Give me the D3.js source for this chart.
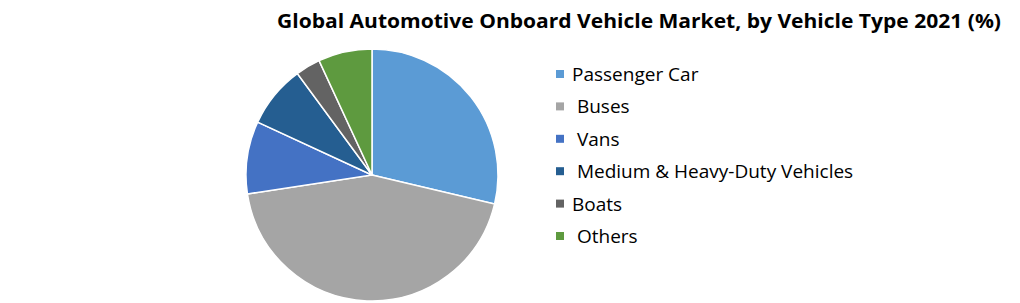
<!DOCTYPE html>
<html>
<head>
<meta charset="utf-8">
<script src="https://cdn.jsdelivr.net/npm/d3@7"></script>
<style>
  body { margin: 0; background: #fff; }
  text { font-family: "Open Sans", "Noto Sans", sans-serif; }
</style>
</head>
<body>
<svg id="chart" width="1020" height="303"></svg>
<script>
// vehicle type shares, 2021 (%)
const categories = ['Passenger Car', ' Buses', ' Vans', ' Medium & Heavy-Duty Vehicles', 'Boats', ' Others'];
const shares = [28.7, 43.9, 9.3, 8.0, 3.2, 6.9];
const colors = ['#5b9bd5', '#a5a5a5', '#4472c4', '#255e91', '#636363', '#5e9a3f'];

const title = 'Global Automotive Onboard Vehicle Market, by Vehicle Type 2021 (%)';

const svg = d3.select('#chart');

svg.append('text')
  .attr('x', 1001)
  .attr('y', 28)
  .attr('text-anchor', 'end')
  .attr('font-size', 20)
  .attr('font-weight', 'bold')
  .attr('textLength', 724)
  .attr('lengthAdjust', 'spacingAndGlyphs')
  .attr('fill', '#000')
  .text(title);

const data = categories.map((name, i) => ({name, value: shares[i], color: colors[i]}));

const pie = d3.pie()
  .sort(null)
  .value(d => d.value);

const arc = d3.arc()
  .innerRadius(0)
  .outerRadius(126);

svg.append('g')
  .attr('transform', 'translate(372,175)')
  .selectAll('path')
  .data(pie(data))
  .enter()
  .append('path')
  .attr('d', arc)
  .attr('fill', d => d.data.color)
  .attr('stroke', '#fff')
  .attr('stroke-width', 1.5);

const y = d3.scalePoint()
  .domain(categories)
  .range([74, 236]);

const legend = svg.append('g')
  .selectAll('g.row')
  .data(data)
  .enter()
  .append('g')
  .classed('row', true)
  .attr('transform', d => `translate(556,${y(d.name)})`);

legend.append('rect')
  .attr('x', 0)
  .attr('y', -4)
  .attr('width', 8)
  .attr('height', 8)
  .attr('fill', d => d.color);

legend.append('text')
  .attr('x', 16)
  .attr('dy', 7)
  .attr('font-size', 19)
  .attr('fill', '#000')
  .style('white-space', 'pre')
  .text(d => d.name);
</script>
</body>
</html>
